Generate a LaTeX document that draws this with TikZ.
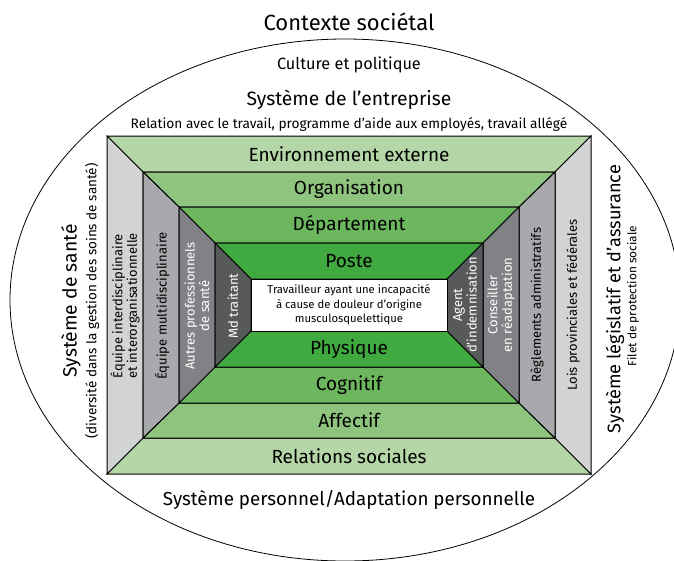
\documentclass[tikz,border=0pt]{standalone}
\usepackage{fontspec}
\setmainfont{Fira Sans}

\definecolor{bandA}{RGB}{181,214,167}
\definecolor{bandB}{RGB}{143,196,126}
\definecolor{bandC}{RGB}{108,182,94}
\definecolor{bandD}{RGB}{64,170,64}
\definecolor{colA}{RGB}{209,211,212}
\definecolor{colB}{RGB}{167,169,172}
\definecolor{colC}{RGB}{128,130,133}
\definecolor{colD}{RGB}{88,89,91}

\begin{document}
\begin{tikzpicture}[x=1pt,y=-1pt,
	face/.style={draw=black,line width=1pt,line join=miter},
	bandtxt/.style={font=\fontsize{19}{20}\selectfont},
	bigtxt/.style={font=\fontsize{19.3}{21}\selectfont},
	smalltxt/.style={font=\fontsize{13.5}{15}\selectfont},
	coltxt/.style={rotate=90,align=center,font=\fontsize{13}{14.5}\selectfont}]
		\useasboundingbox (0,0) rectangle (674,560);
		\draw[line width=0.8pt] (345,300) ellipse [x radius=335, y radius=261];

		% top bands
		\filldraw[face,fill=bandA] (107,136) -- (591,136) -- (555,172) -- (143,172) -- cycle;
		\filldraw[face,fill=bandB] (143,172) -- (555,172) -- (519,207) -- (179,207) -- cycle;
		\filldraw[face,fill=bandC] (179,207) -- (519,207) -- (483,243) -- (215,243) -- cycle;
		\filldraw[face,fill=bandD] (215,243) -- (483,243) -- (447,279) -- (251,279) -- cycle;
		% bottom bands
		\filldraw[face,fill=bandA] (107,474) -- (591,474) -- (555,438) -- (143,438) -- cycle;
		\filldraw[face,fill=bandB] (143,438) -- (555,438) -- (519,403) -- (179,403) -- cycle;
		\filldraw[face,fill=bandC] (179,403) -- (519,403) -- (483,367) -- (215,367) -- cycle;
		\filldraw[face,fill=bandD] (215,367) -- (483,367) -- (447,331) -- (251,331) -- cycle;
		% left columns
		\filldraw[face,fill=colA] (107,136) -- (143,172) -- (143,438) -- (107,474) -- cycle;
		\filldraw[face,fill=colB] (143,172) -- (179,207) -- (179,403) -- (143,438) -- cycle;
		\filldraw[face,fill=colC] (179,207) -- (215,243) -- (215,367) -- (179,403) -- cycle;
		\filldraw[face,fill=colD] (215,243) -- (251,279) -- (251,331) -- (215,367) -- cycle;
		% right columns
		\filldraw[face,fill=colA] (591,136) -- (555,172) -- (555,438) -- (591,474) -- cycle;
		\filldraw[face,fill=colB] (555,172) -- (519,207) -- (519,403) -- (555,438) -- cycle;
		\filldraw[face,fill=colC] (519,207) -- (483,243) -- (483,367) -- (519,403) -- cycle;
		\filldraw[face,fill=colD] (483,243) -- (447,279) -- (447,331) -- (483,367) -- cycle;
		% worker
		\filldraw[face,fill=white] (251,279) rectangle (447,331);

		\node[font=\fontsize{22}{24}\selectfont] (ctx) at (349,22) {Contexte sociétal};
		\node[font=\fontsize{16.3}{18}\selectfont] (cult) at (349,65) {Culture et politique};
		\node[bigtxt] (entr) at (349,100) {Système de l’entreprise};
		\node[font=\fontsize{13.7}{15}\selectfont] (entrsub) at (349,124) {Relation avec le travail, programme d’aide aux employés, travail allégé};

		\node[bandtxt] (envext) at (349,154) {Environnement externe};
		\node[bandtxt] (orga) at (349,189.5) {Organisation};
		\node[bandtxt] (dept) at (349,225) {Département};
		\node[bandtxt] (poste) at (349,261) {Poste};
		\node[align=center,font=\fontsize{11.3}{14.5}\selectfont] (worker) at (349,305) {Travailleur ayant une incapacité\\à cause de douleur d’origine\\musculosquelettique};
		\node[bandtxt] (phys) at (349,349) {Physique};
		\node[bandtxt] (cogn) at (349,385) {Cognitif};
		\node[bandtxt] (affe) at (349,420.5) {Affectif};
		\node[bandtxt] (socl) at (349,456) {Relations sociales};

		\node[coltxt] (interd) at (125,306) {Équipe interdisciplinaire\\et interorganisationnelle};
		\node[coltxt] (multid) at (162,306) {Équipe multidisciplinaire};
		\node[coltxt,text=white] (autres) at (197,306) {Autres professionnels\\de santé};
		\node[coltxt,text=white] (mdt) at (233,306) {Md traitant};
		\node[coltxt,text=white] (agent) at (465,305) {Agent\\d’indemnisation};
		\node[coltxt,text=white] (consl) at (501,305) {Conseiller\\en réadaptation};
		\node[coltxt] (regl) at (537,305) {Règlements administratifs};
		\node[coltxt] (lois) at (573,305) {Lois provinciales et fédérales};

		\node[bigtxt,rotate=90] (sante) at (71,301) {Système de santé};
		\node[smalltxt,rotate=90] (santesub) at (92,301) {(diversité dans la gestion des soins de santé)};
		\node[font=\fontsize{18.2}{20}\selectfont,rotate=90] (legis) at (615,299) {Système législatif et d’assurance};
		\node[rotate=90,font=\fontsize{11.9}{13}\selectfont] (filet) at (633,296) {Filet de protection sociale};

		\node[font=\fontsize{18.8}{20}\selectfont] (perso) at (349,500) {Système personnel/Adaptation personnelle};
\end{tikzpicture}
\end{document}
